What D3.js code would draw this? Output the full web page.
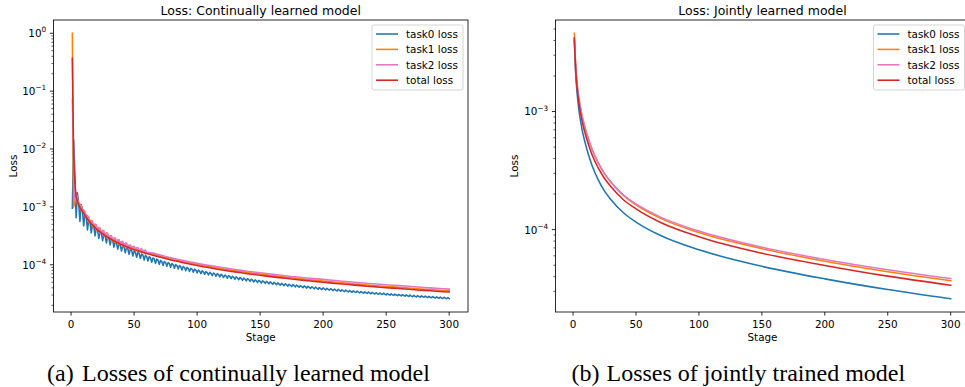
<!DOCTYPE html>
<html>
<head>
<meta charset="utf-8">
<script src="https://cdn.jsdelivr.net/npm/d3@7"></script>
<style>
body { margin: 0; background: #fff; }
svg { display: block; }
</style>
</head>
<body>
<svg id="canvas" width="965" height="387"></svg>
<script>
// all loss values below are in units of 1e-6
const UNIT = 1e-6;
const seriesNames = ["task0 loss", "task1 loss", "task2 loss", "total loss"];
const seriesColors = ["#1f77b4", "#ff7f0e", "#e377c2", "#d62728"];
const xTicks = [0, 50, 100, 150, 200, 250, 300];

// --- continually learned model ---
const contStagesAll = d3.range(1, 301); // task0 is read at every stage (sawtooth)
const contTask0 = [
    950, 14500, 3500, 650, 1750, 1200, 560, 1100, 900, 470, 780, 700, 400, 600, 560, 355, 500, 470,
    315, 430, 405, 285, 375, 360, 260, 335, 322, 238, 305, 292, 220, 280, 268,
    202, 252, 242, 186, 232, 222, 173, 214, 206, 161, 199, 191, 151, 186, 178, 142, 173, 166,
    135, 163, 157, 128, 153, 147, 121, 145, 139, 116, 138, 132, 110.5, 131, 126, 106, 125, 120,
    101.5, 119, 114, 97.5, 114, 109.5, 94, 109.5, 105, 90.5, 105, 101, 87.3, 101, 97, 84.4, 97, 93,
    81.6, 93.4, 89.7, 79.1, 90.2, 86.6, 76.7, 87.1, 83.6, 74.4, 84.1, 80.7, 72.3, 81.0, 77.7,
    70.3, 78.6, 75.5, 68.4, 76.3, 73.3, 66.6, 74.2, 71.2, 64.9, 72.2, 69.3, 63.3, 70.3, 67.5,
    61.7, 68.4, 65.6, 60.2, 66.6, 63.9, 58.8, 64.9, 62.3, 57.5, 63.4, 60.8, 56.2, 61.8, 59.3,
    55.0, 60.4, 58.0, 53.8, 59.0, 56.6, 52.7, 57.7, 55.4, 51.6, 56.3, 54.1, 50.5, 55.0, 52.8,
    49.5, 53.9, 51.7, 48.6, 52.8, 50.7, 47.7, 51.7, 49.6, 46.8, 50.6, 48.6, 45.9, 49.6, 47.6,
    45.1, 48.7, 46.8, 44.3, 47.8, 45.8, 43.6, 47.0, 45.1, 42.8, 46.1, 44.2, 42.1, 45.3, 43.5,
    41.5, 44.6, 42.8, 40.8, 43.8, 42.1, 40.2, 43.1, 41.4, 39.6, 42.5, 40.8, 39.0, 41.7, 40.1,
    38.4, 41.1, 39.5, 37.8, 40.4, 38.8, 37.3, 39.8, 38.2, 36.8, 39.2, 37.7, 36.3, 38.7, 37.2,
    35.8, 38.1, 36.6, 35.3, 37.6, 36.1, 34.8, 37.0, 35.5, 34.4, 36.5, 35.1, 33.9, 35.9, 34.5,
    33.5, 35.5, 34.1, 33.1, 35.1, 33.7, 32.7, 34.6, 33.2, 32.3, 34.2, 32.8, 32.0, 33.9, 32.5,
    31.6, 33.4, 32.0, 31.2, 32.9, 31.6, 30.9, 32.6, 31.3, 30.6, 32.3, 31.0, 30.2, 31.9, 30.6,
    29.9, 31.5, 30.3, 29.6, 31.2, 30.0, 29.3, 30.9, 29.7, 29.0, 30.6, 29.4, 28.7, 30.2, 29.0,
    28.4, 29.9, 28.7, 28.1, 29.6, 28.4, 27.9, 29.4, 28.2, 27.6, 29.0, 27.9, 27.4, 28.8, 27.7,
    27.1, 28.5, 27.4, 26.9, 28.3, 27.1, 26.6, 28.0, 26.9, 26.4, 27.7, 26.6, 26.2, 27.5, 26.4,
    25.9, 27.2, 26.1
];
// other series: every stage up to 60, then every 5 stages
const contStages = d3.range(1, 61).concat(d3.range(65, 301, 5));
const contTask1 = [
    1000000, 1000, 1150, 1725, 1188, 1155, 1127, 855, 882, 897,
    680, 695, 708, 547, 569, 588, 460, 483, 504, 397,
    420, 442, 351, 373, 393, 314, 335, 355, 284, 305,
    316, 263, 279, 290, 242, 258, 269, 226, 240, 251,
    210, 225, 235, 197, 211, 215, 187, 200, 203, 178,
    189, 193, 169, 180, 183, 161, 171, 175, 153, 164,
    154.0, 143.4, 134.2, 126.2, 119.1, 112.7, 107.0, 101.9, 97.2, 92.9, 89.0, 85.5,
    82.2, 79.2, 76.3, 73.7, 71.3, 69.0, 66.9, 64.9, 63.0, 61.2, 59.5, 58.0,
    56.4, 55.0, 53.7, 52.4, 51.1, 50.0, 48.8, 47.8, 46.7, 45.8, 44.8, 44.0,
    43.1, 42.2, 41.5, 40.7, 40.0, 39.3, 38.5, 37.9, 37.3, 36.6, 36.0, 35.5
];
const contTask2 = [
    72000, 9000, 1300, 1650, 1475, 1100, 1078, 1062, 840, 858,
    845, 662, 678, 680, 542, 562, 571, 460, 482, 493,
    400, 422, 435, 355, 376, 389, 319, 340, 353, 290,
    310, 318, 274, 285, 292, 253, 264, 273, 236, 246,
    254, 220, 231, 238, 207, 217, 220, 200, 205, 209,
    189, 195, 198, 180, 185, 189, 171, 177, 180, 164,
    159.9, 148.9, 139.3, 131.0, 123.6, 117.0, 111.1, 105.7, 101.4, 96.9, 92.9, 89.5,
    86.1, 82.9, 80.0, 77.2, 75.0, 72.6, 70.4, 68.6, 66.6, 64.7, 62.9, 61.5,
    59.9, 58.4, 57.0, 55.9, 54.5, 53.3, 52.1, 51.0, 49.8, 48.8, 47.8, 47.1,
    46.1, 45.2, 44.4, 43.6, 42.9, 42.1, 41.3, 40.6, 39.9, 39.3, 38.6, 38.0
];
const contTotal = [
    370000, 8000, 2600, 1500, 1250, 1100, 980, 900, 840, 780,
    716, 662, 616, 576, 542, 511, 484, 460, 438, 418,
    400, 384, 369, 355, 342, 330, 319, 309, 299, 290,
    282, 274, 266, 259, 252, 246, 240, 235, 229, 224,
    219, 214, 210, 205, 201, 197, 193, 190, 186, 183,
    180, 177, 174, 171, 168, 166, 163, 161, 158, 156,
    146.7, 136.6, 127.8, 120.2, 113.4, 107.3, 101.9, 97.0, 92.6, 88.5, 84.8, 81.4,
    78.3, 75.4, 72.7, 70.2, 67.9, 65.7, 63.7, 61.8, 60.0, 58.3, 56.7, 55.2,
    53.7, 52.4, 51.1, 49.9, 48.7, 47.6, 46.5, 45.5, 44.5, 43.6, 42.7, 41.9,
    41.0, 40.2, 39.5, 38.8, 38.1, 37.4, 36.7, 36.1, 35.5, 34.9, 34.3, 33.8
];

// --- jointly learned model (smooth curves, read at these stages) ---
const jointStages = [1, 2, 3, 5, 7, 10, 15, 20, 25, 30, 40, 50, 70, 100, 150, 200, 250, 300];
const jointTask0 = [4000, 2170, 1516, 967, 718, 524, 351, 264, 212, 180, 139, 116, 88.7, 67.5, 48.9, 38.3, 31.1, 26.0];
const jointTask1 = [4600, 2561, 1819, 1218, 933, 697, 481, 367, 297, 252, 195, 162, 124, 94.5, 69.0, 54.0, 44.0, 36.9];
const jointTask2 = [4100, 2496, 1804, 1214, 933, 697, 482, 368, 298, 254, 197, 165, 127, 97.2, 70.9, 55.9, 45.7, 38.5];
const jointTotal = [4200, 2344, 1668, 1112, 847, 629, 432, 333, 271, 232, 179, 150, 114.4, 87.1, 63.1, 49.8, 40.4, 33.8];

const svg = d3.select("#canvas");
const FONT = "DejaVu Sans";
const FS = 10.4; // tick / label / legend font size

function drawPanel(p) {
    // x: matplotlib style 5% margins around stages 1..300
    const x = d3.scaleLinear().domain([1 - 0.05 * 299, 300 + 0.05 * 299]).range([p.left, p.right]);

    // y: log scale, 5% margin in log space
    const all = p.series.flatMap(s => s.values).map(v => v * UNIT);
    const lo = Math.log10(d3.min(all)), hi = Math.log10(d3.max(all));
    const pad = (hi - lo) * 0.05;
    const y = d3.scaleLog().domain([10 ** (lo - pad), 10 ** (hi + pad)]).range([p.bottom, p.top]);

    const g = svg.append("g");
    g.append("clipPath").attr("id", p.id + "-clip")
        .append("rect")
        .attr("x", p.left).attr("y", p.top)
        .attr("width", p.right - p.left).attr("height", p.bottom - p.top);

    const line = d3.line().x(d => x(d[0])).y(d => y(d[1]));

    // lines, drawn in series order (red on top)
    p.series.forEach((s, i) => {
        const n = Math.min(s.stages.length, s.values.length);
        const pts = d3.range(n).map(j => [s.stages[j], s.values[j] * UNIT]);
        g.append("path")
            .datum(pts)
            .attr("clip-path", `url(#${p.id}-clip)`)
            .attr("d", line.curve(s.curve || d3.curveLinear)(pts))
            .attr("fill", "none")
            .attr("stroke", seriesColors[i])
            .attr("stroke-width", 1.56)
            .attr("stroke-linejoin", "round")
            .attr("stroke-linecap", "square");
    });

    // frame
    g.append("rect")
        .attr("x", p.left).attr("y", p.top)
        .attr("width", p.right - p.left).attr("height", p.bottom - p.top)
        .attr("fill", "none").attr("stroke", "#000").attr("stroke-width", 0.83);

    // x ticks
    g.selectAll(".xt").data(xTicks).enter().append("line")
        .attr("x1", d => x(d)).attr("x2", d => x(d))
        .attr("y1", p.bottom).attr("y2", p.bottom + 3.6)
        .attr("stroke", "#000").attr("stroke-width", 0.83);
    g.selectAll(".xl").data(xTicks).enter().append("text")
        .attr("x", d => x(d)).attr("y", p.bottom + 15.5)
        .attr("text-anchor", "middle")
        .attr("font-family", FONT).attr("font-size", FS)
        .text(d => d);

    // y major ticks at decades
    const [d0, d1] = y.domain();
    const decades = d3.range(Math.ceil(Math.log10(d0)), Math.floor(Math.log10(d1)) + 1);
    g.selectAll(".yt").data(decades).enter().append("line")
        .attr("x1", p.left - 3.6).attr("x2", p.left)
        .attr("y1", d => y(10 ** d)).attr("y2", d => y(10 ** d))
        .attr("stroke", "#000").attr("stroke-width", 0.83);
    const yl = g.selectAll(".yl").data(decades).enter().append("text")
        .attr("x", p.left - 7.3).attr("y", d => y(10 ** d) + 3.9)
        .attr("text-anchor", "end")
        .attr("font-family", FONT).attr("font-size", FS);
    yl.append("tspan").text("10");
    yl.append("tspan").attr("dy", -4.7).attr("font-size", 7.3)
        .text(d => (d < 0 ? "\u2212" + (-d) : "" + d));

    // y minor ticks 2..9 per decade
    const minors = [];
    for (let k = Math.floor(Math.log10(d0)); k <= Math.ceil(Math.log10(d1)); k++) {
        for (let m = 2; m <= 9; m++) {
            const v = m * 10 ** k;
            if (v >= d0 && v <= d1) minors.push(v);
        }
    }
    g.selectAll(".ym").data(minors).enter().append("line")
        .attr("x1", p.left - 2.1).attr("x2", p.left)
        .attr("y1", d => y(d)).attr("y2", d => y(d))
        .attr("stroke", "#000").attr("stroke-width", 0.62);

    // axis labels + title
    g.append("text")
        .attr("x", (p.left + p.right) / 2).attr("y", p.bottom + 29)
        .attr("text-anchor", "middle")
        .attr("font-family", FONT).attr("font-size", FS)
        .text("Stage");
    g.append("text")
        .attr("transform", `translate(${p.ylabelX},${(p.top + p.bottom) / 2}) rotate(-90)`)
        .attr("text-anchor", "middle")
        .attr("font-family", FONT).attr("font-size", FS)
        .text("Loss");
    g.append("text")
        .attr("x", (p.left + p.right) / 2).attr("y", p.top - 5.5)
        .attr("text-anchor", "middle")
        .attr("font-family", FONT).attr("font-size", 12.5)
        .text(p.title);

    // legend (upper right)
    const lg = g.append("g").attr("transform", `translate(${p.legendX},${p.top + 5})`);
    lg.append("rect")
        .attr("width", 91).attr("height", 65).attr("rx", 2)
        .attr("fill", "#fff").attr("fill-opacity", 0.8)
        .attr("stroke", "#cccccc").attr("stroke-width", 0.83);
    seriesNames.forEach((name, i) => {
        const ry = 9 + i * 15.4;
        lg.append("line")
            .attr("x1", 4).attr("x2", 26)
            .attr("y1", ry).attr("y2", ry)
            .attr("stroke", seriesColors[i]).attr("stroke-width", 1.56);
        lg.append("text")
            .attr("x", 34).attr("y", ry + 3.8)
            .attr("font-family", FONT).attr("font-size", FS)
            .text(name);
    });

    // caption below the panel
    const cap = svg.append("g").attr("font-family", "Liberation Serif").attr("font-size", 24);
    cap.append("text").attr("x", p.capX).attr("y", 381).text(p.capTag);
    cap.append("text").attr("x", p.capX + 35).attr("y", 381).text(p.caption);
}

drawPanel({
    id: "cont",
    left: 53.5, right: 468, top: 20, bottom: 312,
    ylabelX: 16.5, legendX: 372,
    title: "Loss: Continually learned model",
    capX: 47, capTag: "(a)", caption: "Losses of continually learned model",
    series: [
        { stages: contStagesAll, values: contTask0 },
        { stages: contStages, values: contTask1 },
        { stages: contStages, values: contTask2 },
        { stages: contStages, values: contTotal }
    ]
});

drawPanel({
    id: "joint",
    left: 555.5, right: 969.5, top: 20, bottom: 312,
    ylabelX: 518, legendX: 873.5,
    title: "Loss: Jointly learned model",
    capX: 571.5, capTag: "(b)", caption: "Losses of jointly trained model",
    series: [
        { stages: jointStages, values: jointTask0, curve: d3.curveMonotoneX },
        { stages: jointStages, values: jointTask1, curve: d3.curveMonotoneX },
        { stages: jointStages, values: jointTask2, curve: d3.curveMonotoneX },
        { stages: jointStages, values: jointTotal, curve: d3.curveMonotoneX }
    ]
});
</script>
</body>
</html>
